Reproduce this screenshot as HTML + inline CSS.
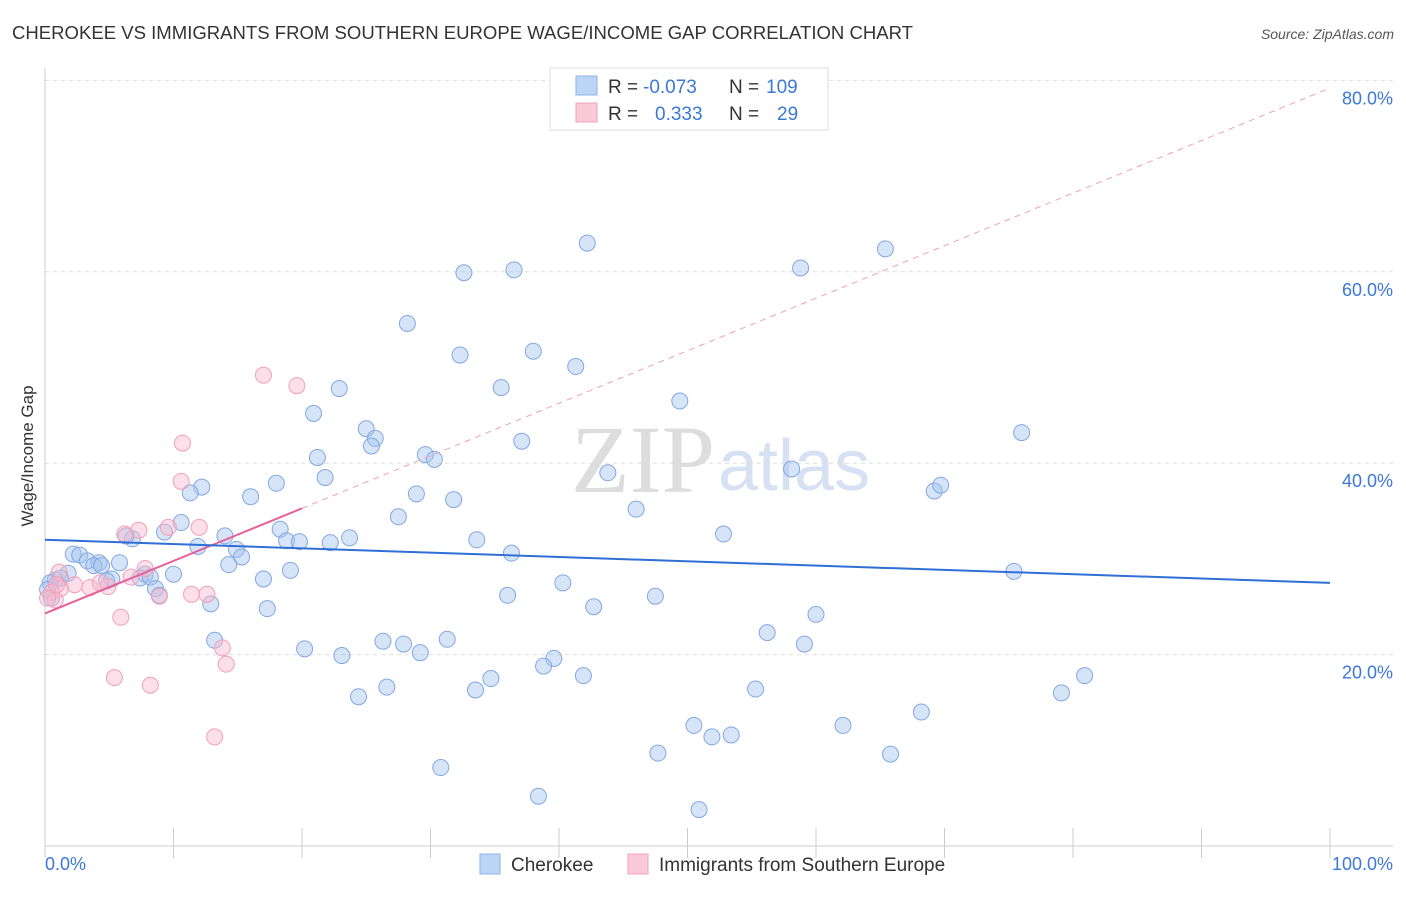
<!DOCTYPE html>
<html><head><meta charset="utf-8"><style>
body{margin:0;background:#fff;font-family:"Liberation Sans",sans-serif;}
</style></head><body>
<svg id="chart" width="1406" height="892" xmlns="http://www.w3.org/2000/svg">
<text x="12" y="39" font-size="18" fill="#333" textLength="901" lengthAdjust="spacingAndGlyphs">CHEROKEE VS IMMIGRANTS FROM SOUTHERN EUROPE WAGE/INCOME GAP CORRELATION CHART</text>
<text x="1394" y="39" font-size="14" fill="#555" font-style="italic" text-anchor="end">Source: ZipAtlas.com</text>
<text x="715" y="492" font-size="96" fill="#ddd" text-anchor="end" font-family="Liberation Serif,serif">ZIP</text>
<text x="718" y="490" font-size="72" fill="#d6e2f3">atlas</text>
<g id="grid"></g>
<line x1="45" y1="68" x2="45" y2="846" stroke="#ccc"/>
<line x1="45" y1="846" x2="1393" y2="846" stroke="#ccc"/>
<g id="ticks"></g>
<text x="33" y="456" font-size="17" fill="#333" text-anchor="middle" transform="rotate(-90 33 456)">Wage/Income Gap</text>
<text x="45" y="870" font-size="18" fill="#3b78d8">0.0%</text>
<text x="1393" y="870" font-size="18" fill="#3b78d8" text-anchor="end">100.0%</text>
<g id="pts"></g>
<g id="lines"></g>
<g>
<rect x="550" y="68" width="278" height="62" fill="#fff" stroke="#ddd"/>
<rect x="576" y="76" width="21" height="19" fill="#bcd4f5" stroke="#8fb3e8"/>
<rect x="576" y="103" width="21" height="19" fill="#fbcad8" stroke="#f0a0b8"/>
<text y="93" font-size="19" fill="#333"><tspan x="608">R = </tspan><tspan fill="#3b78d8" x="643">-0.073</tspan><tspan x="729">N = </tspan><tspan fill="#3b78d8" x="766">109</tspan></text>
<text y="120" font-size="19" fill="#333"><tspan x="608">R = </tspan><tspan fill="#3b78d8" x="655">0.333</tspan><tspan x="729">N = </tspan><tspan fill="#3b78d8" x="777">29</tspan></text>
</g>
<g>
<rect x="480" y="854" width="20" height="20" fill="#bcd4f5" stroke="#8fb3e8"/>
<text x="511" y="871" font-size="19" fill="#333">Cherokee</text>
<rect x="628" y="854" width="20" height="20" fill="#fbcad8" stroke="#f0a0b8"/>
<text x="659" y="871" font-size="19" fill="#333">Immigrants from Southern Europe</text>
</g>
</svg>
<script>
const yTicks=[20,40,60,80];
const blueX=[42.2,65.4,32.6,36.5,58.8,28.2,32.3,38.0,41.3,35.5,22.9,49.4,20.9,25.0,25.7,25.4,37.1,76.0,21.2,29.6,30.3,58.1,43.8,21.8,12.2,11.3,18.0,16.0,28.9,31.8,69.2,69.7,46.0,10.6,27.5,18.3,9.3,14.0,18.8,19.8,22.2,23.7,33.6,52.8,6.8,6.3,11.9,14.9,15.3,36.3,2.2,2.7,3.3,4.2,5.8,14.3,3.8,1.8,4.4,75.4,7.8,10.0,19.1,17.0,5.2,4.8,7.4,8.2,40.3,0.8,1.2,0.4,0.2,0.5,8.6,8.9,36.0,47.5,12.9,17.3,42.7,60.0,56.2,13.2,31.3,26.3,27.9,59.1,20.2,29.2,23.1,39.6,38.8,41.9,34.7,80.9,33.5,26.6,24.4,55.3,79.1,68.2,50.5,62.1,53.4,51.9,47.7,65.8,30.8,38.4,50.9];
const blueY=[63.0,62.4,59.9,60.2,60.4,54.6,51.3,51.7,50.1,47.9,47.8,46.5,45.2,43.6,42.6,41.8,42.3,43.2,40.6,40.9,40.4,39.4,39.0,38.5,37.5,36.9,37.9,36.5,36.8,36.2,37.1,37.7,35.2,33.8,34.4,33.1,32.8,32.4,31.9,31.8,31.7,32.2,32.0,32.6,32.1,32.4,31.3,31.0,30.2,30.6,30.5,30.4,29.8,29.6,29.6,29.4,29.3,28.5,29.3,28.7,28.4,28.4,28.8,27.9,27.9,27.7,28.0,28.1,27.5,27.8,28.0,27.5,26.8,25.9,26.9,26.2,26.2,26.1,25.3,24.8,25.0,24.2,22.3,21.5,21.6,21.4,21.1,21.1,20.6,20.2,19.9,19.6,18.8,17.8,17.5,17.8,16.3,16.6,15.6,16.4,16.0,14.0,12.6,12.6,11.6,11.4,9.7,9.6,8.2,5.2,3.8];
const pinkX=[17.0,19.6,10.7,10.6,12.0,9.6,7.3,6.2,1.1,7.8,6.7,2.3,3.5,4.9,1.2,0.5,0.8,8.9,11.4,12.6,5.9,13.8,14.1,5.4,8.2,13.2,0.2,0.9,4.3];
const pinkY=[49.2,48.1,42.1,38.1,33.3,33.3,33.0,32.6,28.6,29.0,28.1,27.3,27.0,27.1,26.9,26.5,25.7,26.1,26.3,26.3,23.9,20.7,19.0,17.6,16.8,11.4,25.9,27.3,27.5];
const blueFit=[32.0,27.5];
const pinkFit=[24.3,79.2];
const NS='http://www.w3.org/2000/svg';
const sx=v=>45+v*12.85, sy=v=>846-v*9.57;
function mk(t,a,p){const e=document.createElementNS(NS,t);for(const k in a)e.setAttribute(k,a[k]);p.appendChild(e);return e;}
const grid=document.getElementById('grid');
yTicks.forEach(t=>{
 const l=mk('line',{x1:45,x2:1393,y1:sy(t),y2:sy(t),stroke:'#ddd','stroke-dasharray':'4,4'},grid);
 
 
 const tx=mk('text',{x:1393,y:sy(t)+24,'font-size':18,fill:'#3b78d8','text-anchor':'end'},grid);
 tx.textContent=t.toFixed(1)+'%';
 
 
});
const ticks=document.getElementById('ticks');
for(let i=0;i<=10;i++){
 const l=mk('line',{x1:sx(i*10),x2:sx(i*10),y1:828,y2:858,stroke:'#ccc'},ticks);
 
 
}
const pts=document.getElementById('pts');
blueX.forEach((x,i)=>{
 const c=mk('circle',{cx:sx(x),cy:sy(blueY[i]),r:8,fill:'rgba(165,195,240,0.45)',stroke:'#82a8e2','stroke-width':1},pts);
 
 
});
pinkX.forEach((x,i)=>{
 const c=mk('circle',{cx:sx(x),cy:sy(pinkY[i]),r:8,fill:'rgba(248,185,205,0.45)',stroke:'#f0a0b8','stroke-width':1},pts);
 
 
});
const lines=document.getElementById('lines');
const pf=x=>pinkFit[0]+(pinkFit[1]-pinkFit[0])*x/100;
const d=mk('line',{x1:sx(20),y1:sy(pf(20)),x2:sx(100),y2:sy(pf(100)),stroke:'#f0a0b8','stroke-dasharray':'6,5','stroke-width':1},lines);


const p=mk('line',{x1:sx(0),y1:sy(pf(0)),x2:sx(20),y2:sy(pf(20)),stroke:'#e8609a','stroke-width':2},lines);


const b=mk('line',{x1:sx(0),y1:sy(blueFit[0]),x2:sx(100),y2:sy(blueFit[1]),stroke:'#2f6fd6','stroke-width':2},lines);


</script>
</body></html>
